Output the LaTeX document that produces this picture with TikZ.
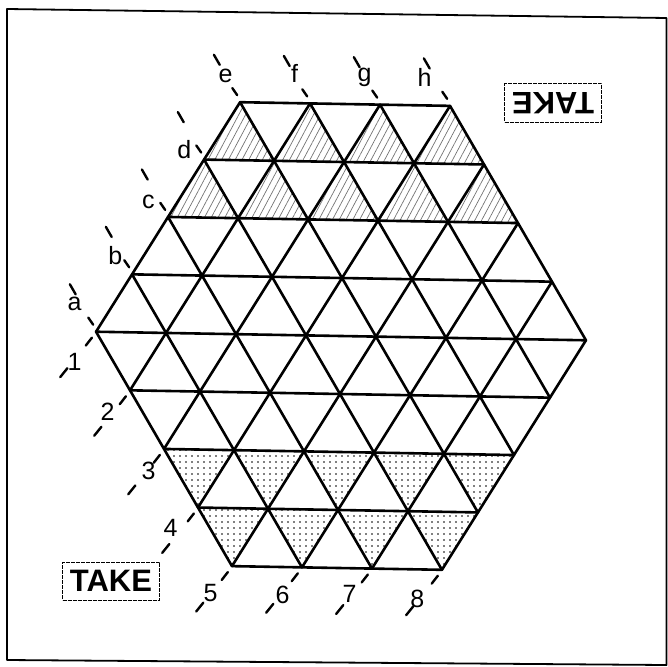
\documentclass[tikz,border=0pt]{standalone}
\usepackage{fontspec}
\setmainfont{Liberation Sans}
\usetikzlibrary{calc,patterns,patterns.meta}
\begin{document}
\begin{tikzpicture}[x=1pt,y=-1pt,
  grid/.style={line width=2.6pt, line cap=round, line join=round},
  lbl/.style={font=\fontsize{25}{25}\selectfont, inner sep=0pt},
  tick/.style={line width=2.4pt, line cap=round},
  hatch/.style={pattern={Lines[angle=62,distance=6pt,line width=0.7pt]}, pattern color=black!55},
  stip/.style={pattern={Dots[distance=6pt,radius=0.8pt]}, pattern color=black},
  takebox/.style={draw, line width=1pt, dash pattern=on 4pt off 1pt, minimum width=97pt, minimum height=38pt, inner sep=0pt, font=\fontsize{31}{31}\selectfont\bfseries}
]
\useasboundingbox (0,0) rectangle (668,666);
% outer frame
\draw[line width=1.8pt, line join=round] (7,9) -- (666.5,18) -- (666.5,665) -- (7,660) -- cycle;

\begin{scope}[rotate around={-1:(341,336)}]
  % shaded triangles
  \foreach \x in {236,306,376,446}
    \fill[hatch] (\x,104) -- ++(-35,58) -- ++(70,0) -- cycle;
  \foreach \x in {201,271,341,411,481}
    \fill[hatch] (\x,162) -- ++(-35,58) -- ++(70,0) -- cycle;
  \foreach \x in {201,271,341,411,481}
    \fill[stip] (\x,510) -- ++(-35,-58) -- ++(70,0) -- cycle;
  \foreach \x in {236,306,376,446}
    \fill[stip] (\x,568) -- ++(-35,-58) -- ++(70,0) -- cycle;
  % horizontal lines
  \foreach \y/\xl in {104/236,162/201,220/166,278/131,336/96,394/131,452/166,510/201,568/236}
    \draw[grid] (\xl,\y) -- ({682-\xl},\y);
  % lines a..h (down-right)
  \foreach \xs/\ys/\n in {96/336/4,131/278/5,166/220/6,201/162/7,236/104/7,306/104/6,376/104/5,446/104/4}
    \draw[grid] (\xs,\ys) -- ++({35*\n},{58*\n});
  % lines 1..8 (up-right)
  \foreach \xs/\ys/\n in {96/336/4,131/394/5,166/452/6,201/510/7,236/568/7,306/568/6,376/568/5,446/568/4}
    \draw[grid] (\xs,\ys) -- ++({35*\n},{-58*\n});

  % letter labels
  \foreach \name/\vx/\vy/\dx/\dy in {a/96/336/-22/-27, b/131/278/-17/-18, c/166/220/-20/-15, d/201/162/-20/-10, e/236/104/-15/-26, f/306/104/-16/-30, g/376/104/-16/-27, h/446/104/-26/-28}{
    \coordinate (v\name) at (\vx,\vy);
    \draw[tick] ($(v\name)+(-3,-7)$) -- ($(v\name)+(-8,-14)$);
    \draw[tick] ($(v\name)+(-21,-37)$) -- ($(v\name)+(-27,-47)$);
    \node[lbl] (l\name) at ($(v\name)+(\dx,\dy)$) {\name};
  }
  % number labels
  \foreach \name/\vx/\vy/\dx/\dy in {1/96/336/-21/31, 2/131/394/-22/22, 3/166/452/-15/22, 4/201/510/-27/21, 5/236/568/-21/27, 6/306/568/-19/28, 7/376/568/-22/26, 8/446/568/-24/30}{
    \coordinate (n\name) at (\vx,\vy);
    \draw[tick] ($(n\name)+(-4,6)$) -- ($(n\name)+(-10,14)$);
    \draw[tick] ($(n\name)+(-28,37)$) -- ($(n\name)+(-35,46)$);
    \node[lbl] (m\name) at ($(n\name)+(\dx,\dy)$) {\name};
  }
\end{scope}

% TAKE boxes
\node[takebox] (take1) at (111,581) {TAKE};
\node[takebox, rotate=180] (take2) at (553,103) {TAKE};
\end{tikzpicture}
\end{document}
